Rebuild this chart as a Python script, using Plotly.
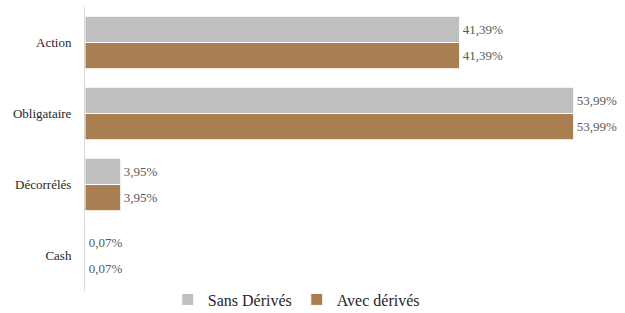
import plotly.graph_objects as go

categories = ["Action", "Obligataire", "Décorrélés", "Cash"]
sans_derives = [41.39, 53.99, 3.95, 0.07]
avec_derives = [41.39, 53.99, 3.95, 0.07]
series_names = ["Sans Dérivés", "Avec dérivés"]

def fmt(v):
    return f"{v:.2f}".replace(".", ",") + "%"

FONT = "Times New Roman, Liberation Serif, DejaVu Serif, serif"
fig = go.Figure()
fig.add_trace(go.Bar(
    y=categories, x=sans_derives, orientation="h", name=series_names[0],
    marker=dict(color="#BFBFBF", line=dict(color="#FFFFFF", width=1)),
    text=[fmt(v) for v in sans_derives], textposition="outside",
    textfont=dict(family=FONT, size=13, color="#595959"), cliponaxis=False,
))
fig.add_trace(go.Bar(
    y=categories, x=avec_derives, orientation="h", name=series_names[1],
    marker=dict(color="#A97F52", line=dict(color="#FFFFFF", width=1)),
    text=[fmt(v) for v in avec_derives], textposition="outside",
    textfont=dict(family=FONT, size=13, color="#595959"), cliponaxis=False,
))
fig.update_layout(
    width=625, height=313,
    margin=dict(l=85, r=15, t=7, b=22, autoexpand=False),
    barmode="group", bargap=0.26, bargroupgap=0,
    plot_bgcolor="white", paper_bgcolor="white",
    font=dict(family=FONT, size=13, color="#262626"),
    xaxis=dict(range=[0, 58], showgrid=False, showticklabels=False, zeroline=False,
               showline=False, ticks=""),
    yaxis=dict(autorange="reversed", showgrid=False, showline=True, linecolor="#D9D9D9",
               linewidth=1, ticks="", ticklabelstandoff=10, automargin=False,
               tickfont=dict(family=FONT, size=13, color="#262626")),
    showlegend=True,
    legend=dict(orientation="h", xref="container", x=0.474, xanchor="center",
                y=-0.03, yanchor="middle",
                font=dict(family=FONT, size=16, color="#262626"),
                itemwidth=30, tracegroupgap=0),
)
fig.write_html("out.html", config={"displayModeBar": False},
               post_script="document.body.style.margin='0';")
